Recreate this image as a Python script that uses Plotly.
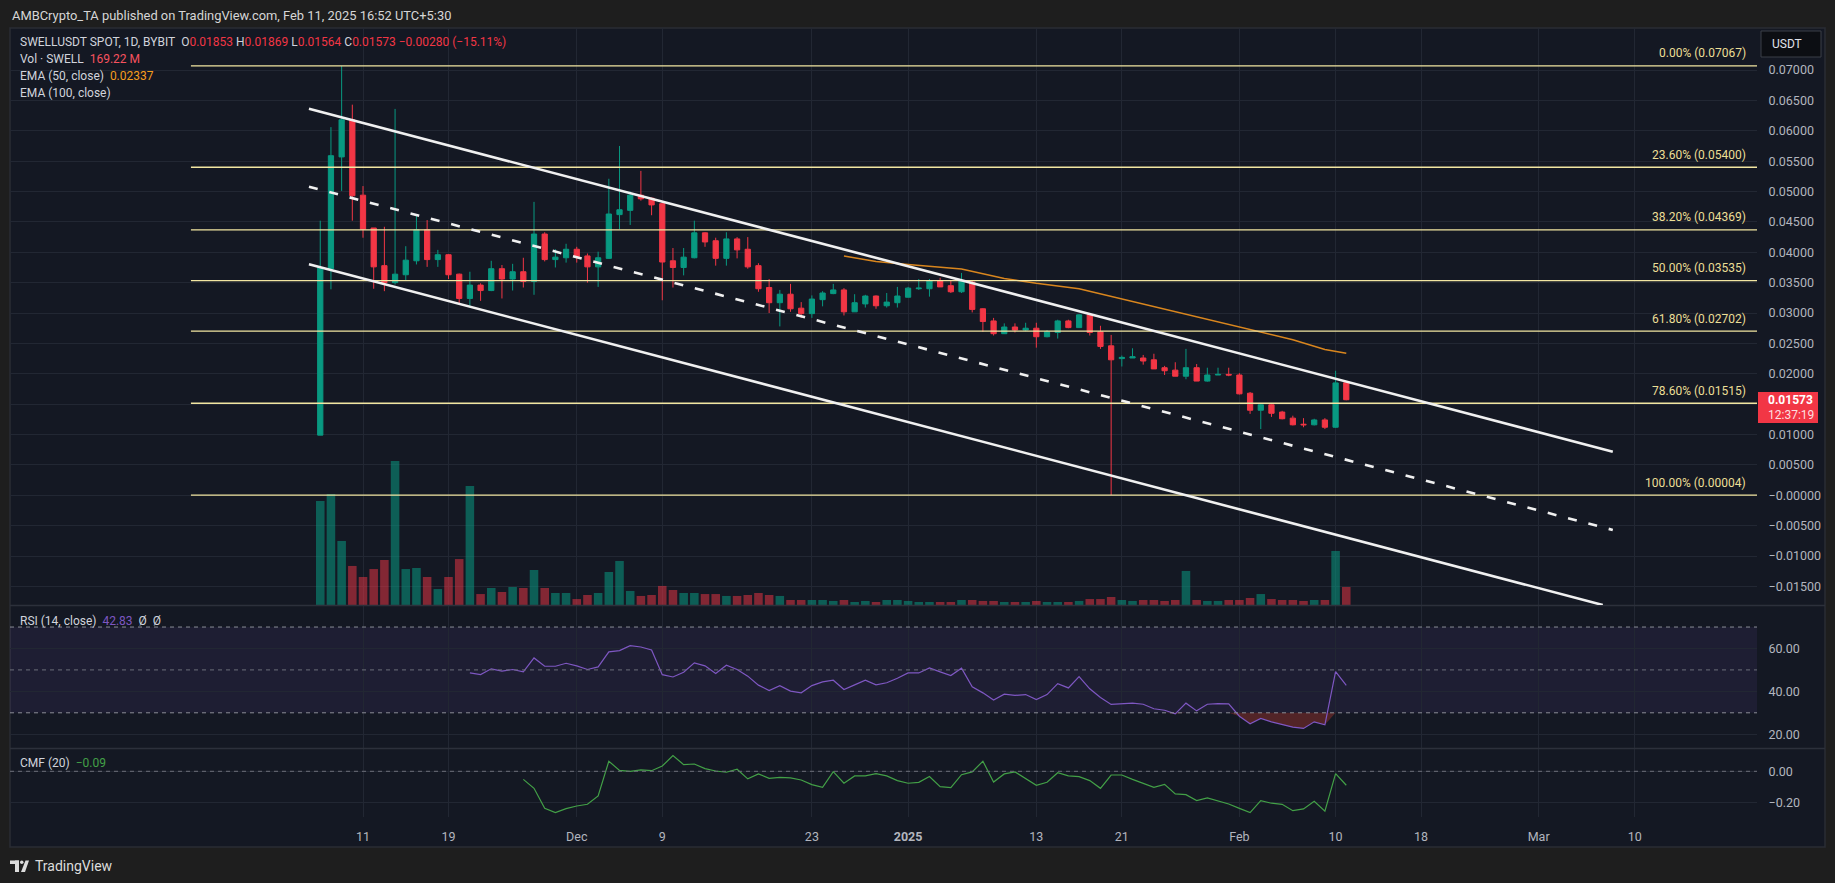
import plotly.graph_objects as go
import pandas as pd

# ---------------- data ----------------
dates = pd.date_range("2024-11-07", "2025-02-11", freq="D")

opens = [0.0099,0.0373,0.0557,0.0618,0.0494,0.0440,0.0378,0.0350,0.0363,0.0386,0.0437,0.0388,0.0396,0.0364,0.0324,0.0346,0.0337,0.0373,0.0356,0.0368,0.0352,0.0430,0.0388,0.0391,
         0.0405,0.0394,0.0376,0.0390,0.0462,0.0469,0.0494,0.0489,0.0480,0.0386,0.0375,0.0391,0.0432,0.0419,0.0390,0.0422,0.0405,0.0378,0.0342,0.0317,0.0331,0.0308,0.0299,0.0322,0.0332,0.0338,0.0302,0.0315,0.0328,0.0312,0.0317,
         0.0326,0.0340,0.0340,0.0353,0.0345,0.0335,0.0351,0.0307,0.0287,0.0266,0.0277,0.0272,0.0275,0.0261,0.0268,0.0287,0.0276,0.0297,0.0269,0.0246,0.0225,0.0226,0.0226,0.0223,0.0210,0.0206,0.0196,0.0210,0.0188,0.0198,0.0199,
         0.0198,0.0168,0.0140,0.0149,0.0137,0.0127,0.0117,0.0116,0.0124,0.0112,0.01853]
highs = [0.0452,0.0606,0.07067,0.0643,0.0509,0.0440,0.0442,0.0636,0.0410,0.0463,0.0453,0.0404,0.0397,0.0365,0.0368,0.0349,0.0386,0.0379,0.0381,0.0391,0.0483,0.0433,0.0405,0.0414,
         0.0409,0.0398,0.0401,0.0521,0.0575,0.0500,0.0534,0.0490,0.0483,0.0407,0.0407,0.0452,0.0433,0.0424,0.0433,0.0425,0.0425,0.0382,0.0356,0.0338,0.0348,0.0318,0.0329,0.0336,0.0348,0.0341,0.0331,0.0330,0.0329,0.0333,0.0343,
         0.0343,0.0356,0.0356,0.0358,0.0353,0.0366,0.0354,0.0308,0.0292,0.0283,0.0283,0.0284,0.0284,0.0272,0.0289,0.0289,0.0298,0.0298,0.0279,0.0264,0.0230,0.0242,0.0231,0.0233,0.0213,0.0219,0.0241,0.0216,0.0210,0.0210,0.0210,
         0.0201,0.0170,0.0152,0.0150,0.0139,0.0131,0.0127,0.0126,0.0127,0.0205,0.01869]
lows = [0.0099,0.0339,0.0501,0.0452,0.0424,0.0340,0.0336,0.0347,0.0354,0.0380,0.0376,0.0376,0.0356,0.0316,0.0311,0.0320,0.0336,0.0324,0.0337,0.0342,0.0330,0.0385,0.0375,0.0383,
        0.0383,0.0350,0.0343,0.0389,0.0438,0.0445,0.0485,0.0461,0.0321,0.0342,0.0362,0.0390,0.0409,0.0378,0.0378,0.0390,0.0373,0.0335,0.0300,0.0278,0.0302,0.0292,0.0292,0.0311,0.0331,0.0296,0.0302,0.0309,0.0307,0.0309,0.0309,
        0.0326,0.0338,0.0327,0.0343,0.0333,0.0333,0.0301,0.0269,0.0263,0.0266,0.0268,0.0270,0.0243,0.0260,0.0258,0.0275,0.0276,0.0263,0.0241,0.00004,0.0212,0.0226,0.0215,0.0208,0.0198,0.0196,0.0191,0.0188,0.0187,0.0198,0.0196,
        0.0166,0.0134,0.0109,0.0129,0.0125,0.0115,0.0112,0.0115,0.0109,0.0111,0.01564]
closes = [0.0375,0.0559,0.0618,0.0493,0.0438,0.0376,0.0350,0.0364,0.0387,0.0437,0.0388,0.0396,0.0363,0.0324,0.0346,0.0337,0.0373,0.0356,0.0368,0.0352,0.0430,0.0388,0.0392,0.0405,
          0.0393,0.0376,0.0391,0.0463,0.0470,0.0494,0.0488,0.0478,0.0384,0.0375,0.0392,0.0432,0.0417,0.0390,0.0422,0.0404,0.0376,0.0340,0.0317,0.0331,0.0307,0.0299,0.0323,0.0333,0.0338,0.0302,0.0317,0.0328,0.0312,0.0318,0.0328,
          0.0341,0.0341,0.0353,0.0343,0.0335,0.0353,0.0306,0.0286,0.0266,0.0277,0.0272,0.0275,0.0261,0.0269,0.0287,0.0276,0.0297,0.0268,0.0245,0.0223,0.0227,0.0228,0.0221,0.0208,0.0205,0.0196,0.0210,0.0188,0.0198,0.0199,0.0198,
          0.0167,0.0140,0.0149,0.0135,0.0126,0.0116,0.0116,0.0124,0.0112,0.0185,0.01573]
volumes_m = [978,1043,602,367,263,338,423,1354,338,348,263,150,263,432,1119,103,160,122,169,160,329,160,113,113,
             56,94,113,310,414,132,85,94,179,141,113,113,103,103,85,85,94,113,94,85,47,47,47,47,38,47,28,38,28,47,47,
             38,28,28,28,28,47,47,38,38,28,28,28,38,28,28,28,38,56,56,75,47,38,47,47,38,47,320,47,38,38,47,
             47,66,103,56,47,47,38,47,47,508,169.22]

ema_dates = ["2024-12-26","2024-12-29","2025-01-01","2025-01-06","2025-01-10","2025-01-13","2025-01-17",
             "2025-01-21","2025-01-27","2025-02-03","2025-02-06","2025-02-09","2025-02-11"]
ema50 = [0.0394,0.0385,0.0380,0.03725,0.0357,0.0349,0.0340,0.0323,0.0298,0.0268,0.0256,0.0240,0.02337]

rsi_dates = pd.date_range("2024-11-21", "2025-02-11", freq="D")
rsi = [48.6,47.8,50.5,49.4,50.2,49.1,55.6,51.7,51.7,53.1,51.9,50.2,51.4,58.4,59.0,61.3,60.7,59.3,47.8,46.7,
       48.9,53.3,51.9,48.3,52.2,50.2,47.1,42.9,40.4,42.6,40.1,39.3,42.7,44.4,45.2,40.9,43.0,45.2,43.0,44.0,
       46.1,48.6,48.6,50.9,49.1,47.4,50.8,42.1,39.3,36.0,38.7,38.1,38.5,36.2,38.5,43.6,41.6,46.9,41.2,37.1,
       33.9,34.2,34.5,34.0,31.9,31.2,29.5,34.5,30.9,34.0,34.3,34.2,28.4,24.9,27.4,25.8,24.4,23.3,22.7,25.8,
       24.4,49.2,42.83]

cmf_dates = pd.date_range("2024-11-26", "2025-02-11", freq="D")
cmf = [-0.052,-0.110,-0.239,-0.267,-0.241,-0.224,-0.213,-0.159,0.065,0.006,0.000,0.009,0.004,0.034,0.101,0.043,0.047,0.017,0.002,-0.006,
       0.013,-0.049,-0.017,-0.045,-0.039,-0.043,-0.056,-0.086,-0.103,-0.002,-0.077,-0.030,-0.030,-0.015,-0.030,-0.060,-0.077,-0.071,-0.034,-0.099,
       -0.105,-0.022,-0.004,0.065,-0.069,-0.017,-0.004,-0.049,-0.090,-0.071,-0.009,-0.030,-0.034,-0.060,-0.110,-0.024,-0.024,-0.052,-0.075,-0.103,
       -0.084,-0.146,-0.151,-0.189,-0.172,-0.191,-0.211,-0.239,-0.267,-0.189,-0.206,-0.213,-0.254,-0.243,-0.194,-0.258,-0.015,-0.09]

fib_pcts = ["0.00%","23.60%","38.20%","50.00%","61.80%","78.60%","100.00%"]
fib_vals = [0.07067,0.05400,0.04369,0.03535,0.02702,0.01515,0.00004]
fib_start = "2024-10-25 21:36"

channel_upper = [("2024-11-05 22:38", 0.06364), ("2025-03-07 22:30", 0.00718)]
channel_mid = [("2024-11-05 22:38", 0.0508), ("2025-03-07 22:30", -0.00571)]
channel_lower = [("2024-11-05 22:38", 0.03802), ("2025-03-07 00:00", -0.01806)]

price_ticks = [0.07,0.065,0.06,0.055,0.05,0.045,0.04,0.035,0.03,0.025,0.02,0.015,0.01,0.005,0.0,-0.005,-0.01,-0.015]
# the 0.01500 label sits under the last-price tag in the reference, so it is left blank
price_tick_text = ["0.07000","0.06500","0.06000","0.05500","0.05000","0.04500","0.04000","0.03500","0.03000",
                   "0.02500","0.02000","","0.01000","0.00500","\u22120.00000","\u22120.00500","\u22120.01000","\u22120.01500"]
x_tick_dates = ["2024-11-11","2024-11-19","2024-12-01","2024-12-09","2024-12-23","2025-01-01","2025-01-13",
                "2025-01-21","2025-02-01","2025-02-10","2025-02-18","2025-03-01","2025-03-10"]
x_tick_text = ["11","19","Dec","9","23","<b>2025</b>","13","21","Feb","10","18","Mar","10"]
x_range = ["2024-10-08 23:17", "2025-03-21 10:19"]

# ---------------- styling ----------------
FONT = "Roboto"
GREEN, RED = "#089981", "#f23645"
GRID = "#222733"
TXT = "#b2b5be"
FIB = "#f2e6a2"
PANEL = "#141823"

def px(x):
    return (x - 10) / 1747.0

def py(y):
    return (817 - y) / 789.0

fig = go.Figure()

vol_colors = ["rgba(8,153,129,0.55)" if c >= o else "rgba(242,54,69,0.5)" for o, c in zip(opens, closes)]
fig.add_trace(go.Bar(x=dates, y=volumes_m, marker=dict(color=vol_colors, line=dict(width=0)),
                     width=0.8 * 86400000, xaxis="x", yaxis="y4", hoverinfo="skip"))
fig.add_trace(go.Candlestick(x=dates, open=opens, high=highs, low=lows, close=closes,
                             increasing=dict(line=dict(color=GREEN, width=1), fillcolor=GREEN),
                             decreasing=dict(line=dict(color=RED, width=1), fillcolor=RED),
                             whiskerwidth=0, xaxis="x", yaxis="y", hoverinfo="skip"))
fig.add_trace(go.Scatter(x=ema_dates, y=ema50, mode="lines", line=dict(color="#d9861e", width=1.5),
                         xaxis="x", yaxis="y", hoverinfo="skip"))

# RSI
rsi_clip = [min(v, 30) for v in rsi]
fig.add_trace(go.Scatter(x=rsi_dates, y=[30] * len(rsi), mode="lines", line=dict(width=0, color="rgba(0,0,0,0)"),
                         xaxis="x2", yaxis="y2", hoverinfo="skip"))
fig.add_trace(go.Scatter(x=rsi_dates, y=rsi_clip, mode="lines", line=dict(width=0, color="rgba(0,0,0,0)"),
                         fill="tonexty", fillcolor="rgba(170,55,45,0.42)", xaxis="x2", yaxis="y2", hoverinfo="skip"))
fig.add_trace(go.Scatter(x=rsi_dates, y=rsi, mode="lines", line=dict(color="#7e57c2", width=1.2),
                         xaxis="x2", yaxis="y2", hoverinfo="skip"))
# CMF
fig.add_trace(go.Scatter(x=cmf_dates, y=cmf, mode="lines", line=dict(color="#43a047", width=1.2),
                         xaxis="x3", yaxis="y3", hoverinfo="skip"))

shapes = []
# panel background
shapes.append(dict(type="rect", xref="paper", yref="paper", x0=px(10), x1=px(1825), y0=py(847), y1=py(28),
                   fillcolor=PANEL, line=dict(color="#2a2d35", width=1.5), layer="below"))
# pane separators
for yy in (605.5, 748.5):
    shapes.append(dict(type="line", xref="paper", yref="paper", x0=px(10), x1=px(1825), y0=py(yy), y1=py(yy),
                       line=dict(color="#2c303b", width=1.5)))
# fib lines
for v in fib_vals:
    shapes.append(dict(type="line", xref="x", yref="y", x0=fib_start, x1=x_range[1], y0=v, y1=v,
                       line=dict(color=FIB, width=1.3)))
# channel
for (p0, p1), dash in ((channel_upper, "solid"), (channel_lower, "solid"), (channel_mid, "9px,12px")):
    shapes.append(dict(type="line", xref="x", yref="y", x0=p0[0], y0=p0[1], x1=p1[0], y1=p1[1],
                       line=dict(color="#f0f0f0", width=2.6, dash=dash)))
# RSI band and levels
shapes.append(dict(type="rect", xref="x2", yref="y2", x0=x_range[0], x1=x_range[1], y0=30, y1=70,
                   fillcolor="rgba(126,87,194,0.10)", line=dict(width=0), layer="below"))
for lv, col in ((70, "#8a8d96"), (50, "#6d707a"), (30, "#8a8d96")):
    shapes.append(dict(type="line", xref="x2", yref="y2", x0=x_range[0], x1=x_range[1], y0=lv, y1=lv,
                       line=dict(color=col, width=1, dash="4px,4px")))
shapes.append(dict(type="line", xref="x3", yref="y3", x0=x_range[0], x1=x_range[1], y0=0, y1=0,
                   line=dict(color="#6d707a", width=1, dash="4px,4px")))
# USDT box and last price box
shapes.append(dict(type="rect", xref="paper", yref="paper", x0=px(1761), x1=px(1821), y0=py(57), y1=py(31),
                   fillcolor="#0c0e13", line=dict(color="#3a3e48", width=1)))
shapes.append(dict(type="rect", xref="paper", yref="paper", x0=px(1758), x1=px(1818), y0=py(423), y1=py(392),
                   fillcolor=RED, line=dict(width=0)))
# TradingView logo approximation
LOGO = "#dcdcdc"
shapes.append(dict(type="rect", xref="paper", yref="paper", x0=px(10), x1=px(19), y0=py(864), y1=py(860.5),
                   fillcolor=LOGO, line=dict(width=0)))
shapes.append(dict(type="rect", xref="paper", yref="paper", x0=px(15), x1=px(19), y0=py(872), y1=py(860.5),
                   fillcolor=LOGO, line=dict(width=0)))
shapes.append(dict(type="circle", xref="paper", yref="paper", x0=px(20), x1=px(23.5), y0=py(864), y1=py(860.5),
                   fillcolor=LOGO, line=dict(width=0)))
shapes.append(dict(type="path", xref="paper", yref="paper",
                   path=f"M {px(21)} {py(872)} L {px(25.5)} {py(860.5)} L {px(29)} {py(860.5)} L {px(25)} {py(872)} Z",
                   fillcolor=LOGO, line=dict(width=0)))

ann = []
def text(x, y, s, color="#d1d4dc", size=12, anchor="left", **kw):
    ann.append(dict(xref="paper", yref="paper", x=px(x), y=py(y), text=s, showarrow=False, xanchor=anchor,
                    yanchor="middle", font=dict(family=FONT, size=size, color=color), **kw))

text(10, 15, "AMBCrypto_TA published on TradingView.com, Feb 11, 2025 16:52 UTC+5:30", color="#d6d6d6", size=12.9)
r = lambda s: f'<span style="color:{RED}">{s}</span>'
text(18, 42, "SWELLUSDT SPOT, 1D, BYBIT\u00a0\u00a0O" + r("0.01853") + "\u00a0H" + r("0.01869") +
     "\u00a0L" + r("0.01564") + "\u00a0C" + r("0.01573") + "\u00a0" + r("\u22120.00280 (\u221215.11%)"))
text(18, 59, "Vol \u00b7 SWELL\u00a0\u00a0" + '<span style="color:#f7525f">169.22\u00a0M</span>')
text(18, 76, "EMA (50, close)\u00a0\u00a0" + '<span style="color:#f59d1e">0.02337</span>')
text(18, 93, "EMA (100, close)")
text(18, 621, "RSI (14, close)\u00a0\u00a0" + '<span style="color:#7e57c2">42.83</span>\u00a0\u00a0\u00d8\u00a0\u00a0\u00d8')
text(18, 763, "CMF (20)\u00a0\u00a0" + '<span style="color:#43a047">\u22120.09</span>')
text(1770, 44, "USDT", color="#e0e3eb")
text(1766, 400, "<b>0.01573</b>", color="#ffffff")
text(1766, 415, "12:37:19", color="rgba(255,255,255,0.85)")
text(33, 866, "TradingView", color="#dcdcdc", size=14)

for lab, v in zip(fib_pcts, fib_vals):
    ann.append(dict(xref="paper", yref="y", x=px(1748), y=v, yshift=12.5, text=f"{lab} ({v:.5f})",
                    showarrow=False, xanchor="right", yanchor="middle",
                    font=dict(family=FONT, size=12, color="#ecdf96")))

axis_common = dict(showline=False, zeroline=False, fixedrange=True)
xcommon = dict(axis_common, type="date", range=x_range, tickvals=x_tick_dates, ticktext=x_tick_text,
               showgrid=True, gridcolor=GRID, gridwidth=1)
ycommon = dict(axis_common, side="right", showgrid=True, gridcolor=GRID, ticks="outside", ticklen=8,
               tickcolor="rgba(0,0,0,0)", tickfont=dict(family=FONT, size=12.5, color=TXT))

fig.update_layout(
    width=1835, height=883,
    margin=dict(l=10, r=78, t=28, b=66),
    paper_bgcolor="#1e1e1e", plot_bgcolor="rgba(0,0,0,0)",
    showlegend=False, hovermode=False,
    font=dict(family=FONT, color=TXT),
    xaxis=dict(xcommon, anchor="y", domain=[0, 1], showticklabels=False, rangeslider=dict(visible=False)),
    xaxis2=dict(xcommon, anchor="y2", domain=[0, 1], matches="x", showticklabels=False),
    xaxis3=dict(xcommon, anchor="y3", domain=[0, 1], matches="x", showticklabels=True, ticks="outside",
                ticklen=8, tickcolor="rgba(0,0,0,0)", tickfont=dict(family=FONT, size=12.5, color=TXT)),
    yaxis=dict(ycommon, domain=[0.2687, 1], range=[-0.01806, 0.07692], tickvals=price_ticks, ticktext=price_tick_text),
    yaxis2=dict(ycommon, domain=[0.0875, 0.2674], range=[13.6, 79.8], tickvals=[20, 40, 60],
                ticktext=["20.00", "40.00", "60.00"]),
    yaxis3=dict(ycommon, domain=[0, 0.0862], range=[-0.295, 0.144], tickvals=[0, -0.2],
                ticktext=["0.00", "\u22120.20"]),
    yaxis4=dict(axis_common, overlaying="y", range=[0, 5424], visible=False),
    shapes=shapes, annotations=ann,
)

fig.write_html("out.html", config={"displayModeBar": False},
               post_script="document.body.style.margin='0px';document.body.style.background='#1e1e1e';")
